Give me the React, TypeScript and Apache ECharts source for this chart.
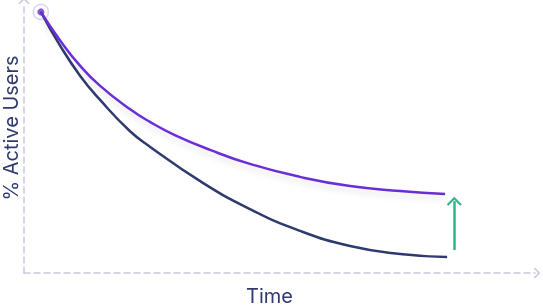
import React, { useEffect, useRef } from "react";
import * as echarts from "echarts";

// Time (0–100) vs % active users (0–100)
const purpleTime = [3.3, 7.0, 11.0, 14.9, 20.7, 24.7, 29.5, 36.4, 44.2, 54.0, 63.8, 73.6, 82.4];
const purpleUsers = [96.7, 86.3, 76.7, 69.3, 60.7, 55.9, 51.1, 45.6, 40.4, 35.6, 32.2, 30.4, 29.3];
const navyTime = [3.3, 7.0, 11.0, 14.9, 20.7, 24.7, 34.4, 44.2, 54.0, 63.8, 73.6, 82.8];
const navyUsers = [96.7, 84.4, 73.0, 64.1, 52.6, 46.7, 34.1, 23.7, 15.6, 10.0, 7.0, 5.9];
const liftTime = [84.2, 84.2];
const liftUsers = [8.5, 26.6];
const xName = "Time";
const yName = "% Active Users";

const chevron = "path://M0,10 L10,0 L20,10 L18,12 L10,4 L2,12 Z";

export default function App() {
  const ref = useRef<HTMLDivElement>(null);
  useEffect(() => {
    if (!ref.current) return;
    const chart = echarts.init(ref.current, undefined, { renderer: "svg" });
    const axisLine = {
      show: true,
      symbol: ["none", chevron],
      symbolSize: [11, 7],
      symbolOffset: [0, 2],
      lineStyle: { color: "#c8c8dc", width: 1.5, type: [6, 4] },
    };
    const font = "Inter, 'Noto Sans', sans-serif";
    chart.setOption({
      animation: false,
      grid: { left: 24, right: 8, top: 3, bottom: 34, outerBoundsMode: "none", containLabel: false },
      xAxis: {
        type: "value",
        min: 0,
        max: 100,
        name: xName,
        nameLocation: "middle",
        nameGap: 13,
        nameTextStyle: { fontFamily: font, fontSize: 20, color: "#2f3a6f", padding: [0, 20, 0, 0] },
        axisLine,
        axisTick: { show: false },
        axisLabel: { show: false },
        splitLine: { show: false },
      },
      yAxis: {
        type: "value",
        min: 0,
        max: 100,
        name: yName,
        nameLocation: "middle",
        nameGap: 3,
        nameTextStyle: {
          fontFamily: font,
          fontSize: 20,
          lineHeight: 20,
          color: "#2f3a6f",
          padding: [0, 0, 0, 20],
        },
        axisLine,
        axisTick: { show: false },
        axisLabel: { show: false },
        splitLine: { show: false },
      },
      series: [
        {
          type: "line",
          smooth: 0.5,
          showSymbol: false,
          data: navyTime.map((t, i) => [t, navyUsers[i]]),
          lineStyle: { color: "#2f3a6f", width: 2.5 },
          markLine: {
            silent: true,
            symbol: ["none", chevron],
            symbolSize: [15, 9],
            label: { show: false },
            lineStyle: { color: "#34b38a", width: 2.5, type: "solid" },
            data: [[{ coord: [liftTime[0], liftUsers[0]] }, { coord: [liftTime[1], liftUsers[1]] }]],
          },
        },
        {
          type: "line",
          smooth: 0.5,
          showSymbol: false,
          data: purpleTime.map((t, i) => [t, purpleUsers[i]]),
          lineStyle: {
            color: "#6a2ed6",
            width: 2.5,
            shadowColor: "rgba(0,0,0,0.12)",
            shadowBlur: 6,
            shadowOffsetY: 4,
          },
        },
        {
          type: "scatter",
          data: [[purpleTime[0], purpleUsers[0]]],
          symbolSize: 15,
          itemStyle: { color: "#ffffff", borderColor: "#d6c8f4", borderWidth: 1.5 },
          silent: true,
        },
        {
          type: "scatter",
          data: [[purpleTime[0], purpleUsers[0]]],
          symbolSize: 7,
          itemStyle: { color: "#6a2ed6" },
          silent: true,
        },
      ],
    });
    return () => chart.dispose();
  }, []);
  return <div ref={ref} style={{ width: 543, height: 307, position: "fixed", left: 0, top: 0 }} />;
}
